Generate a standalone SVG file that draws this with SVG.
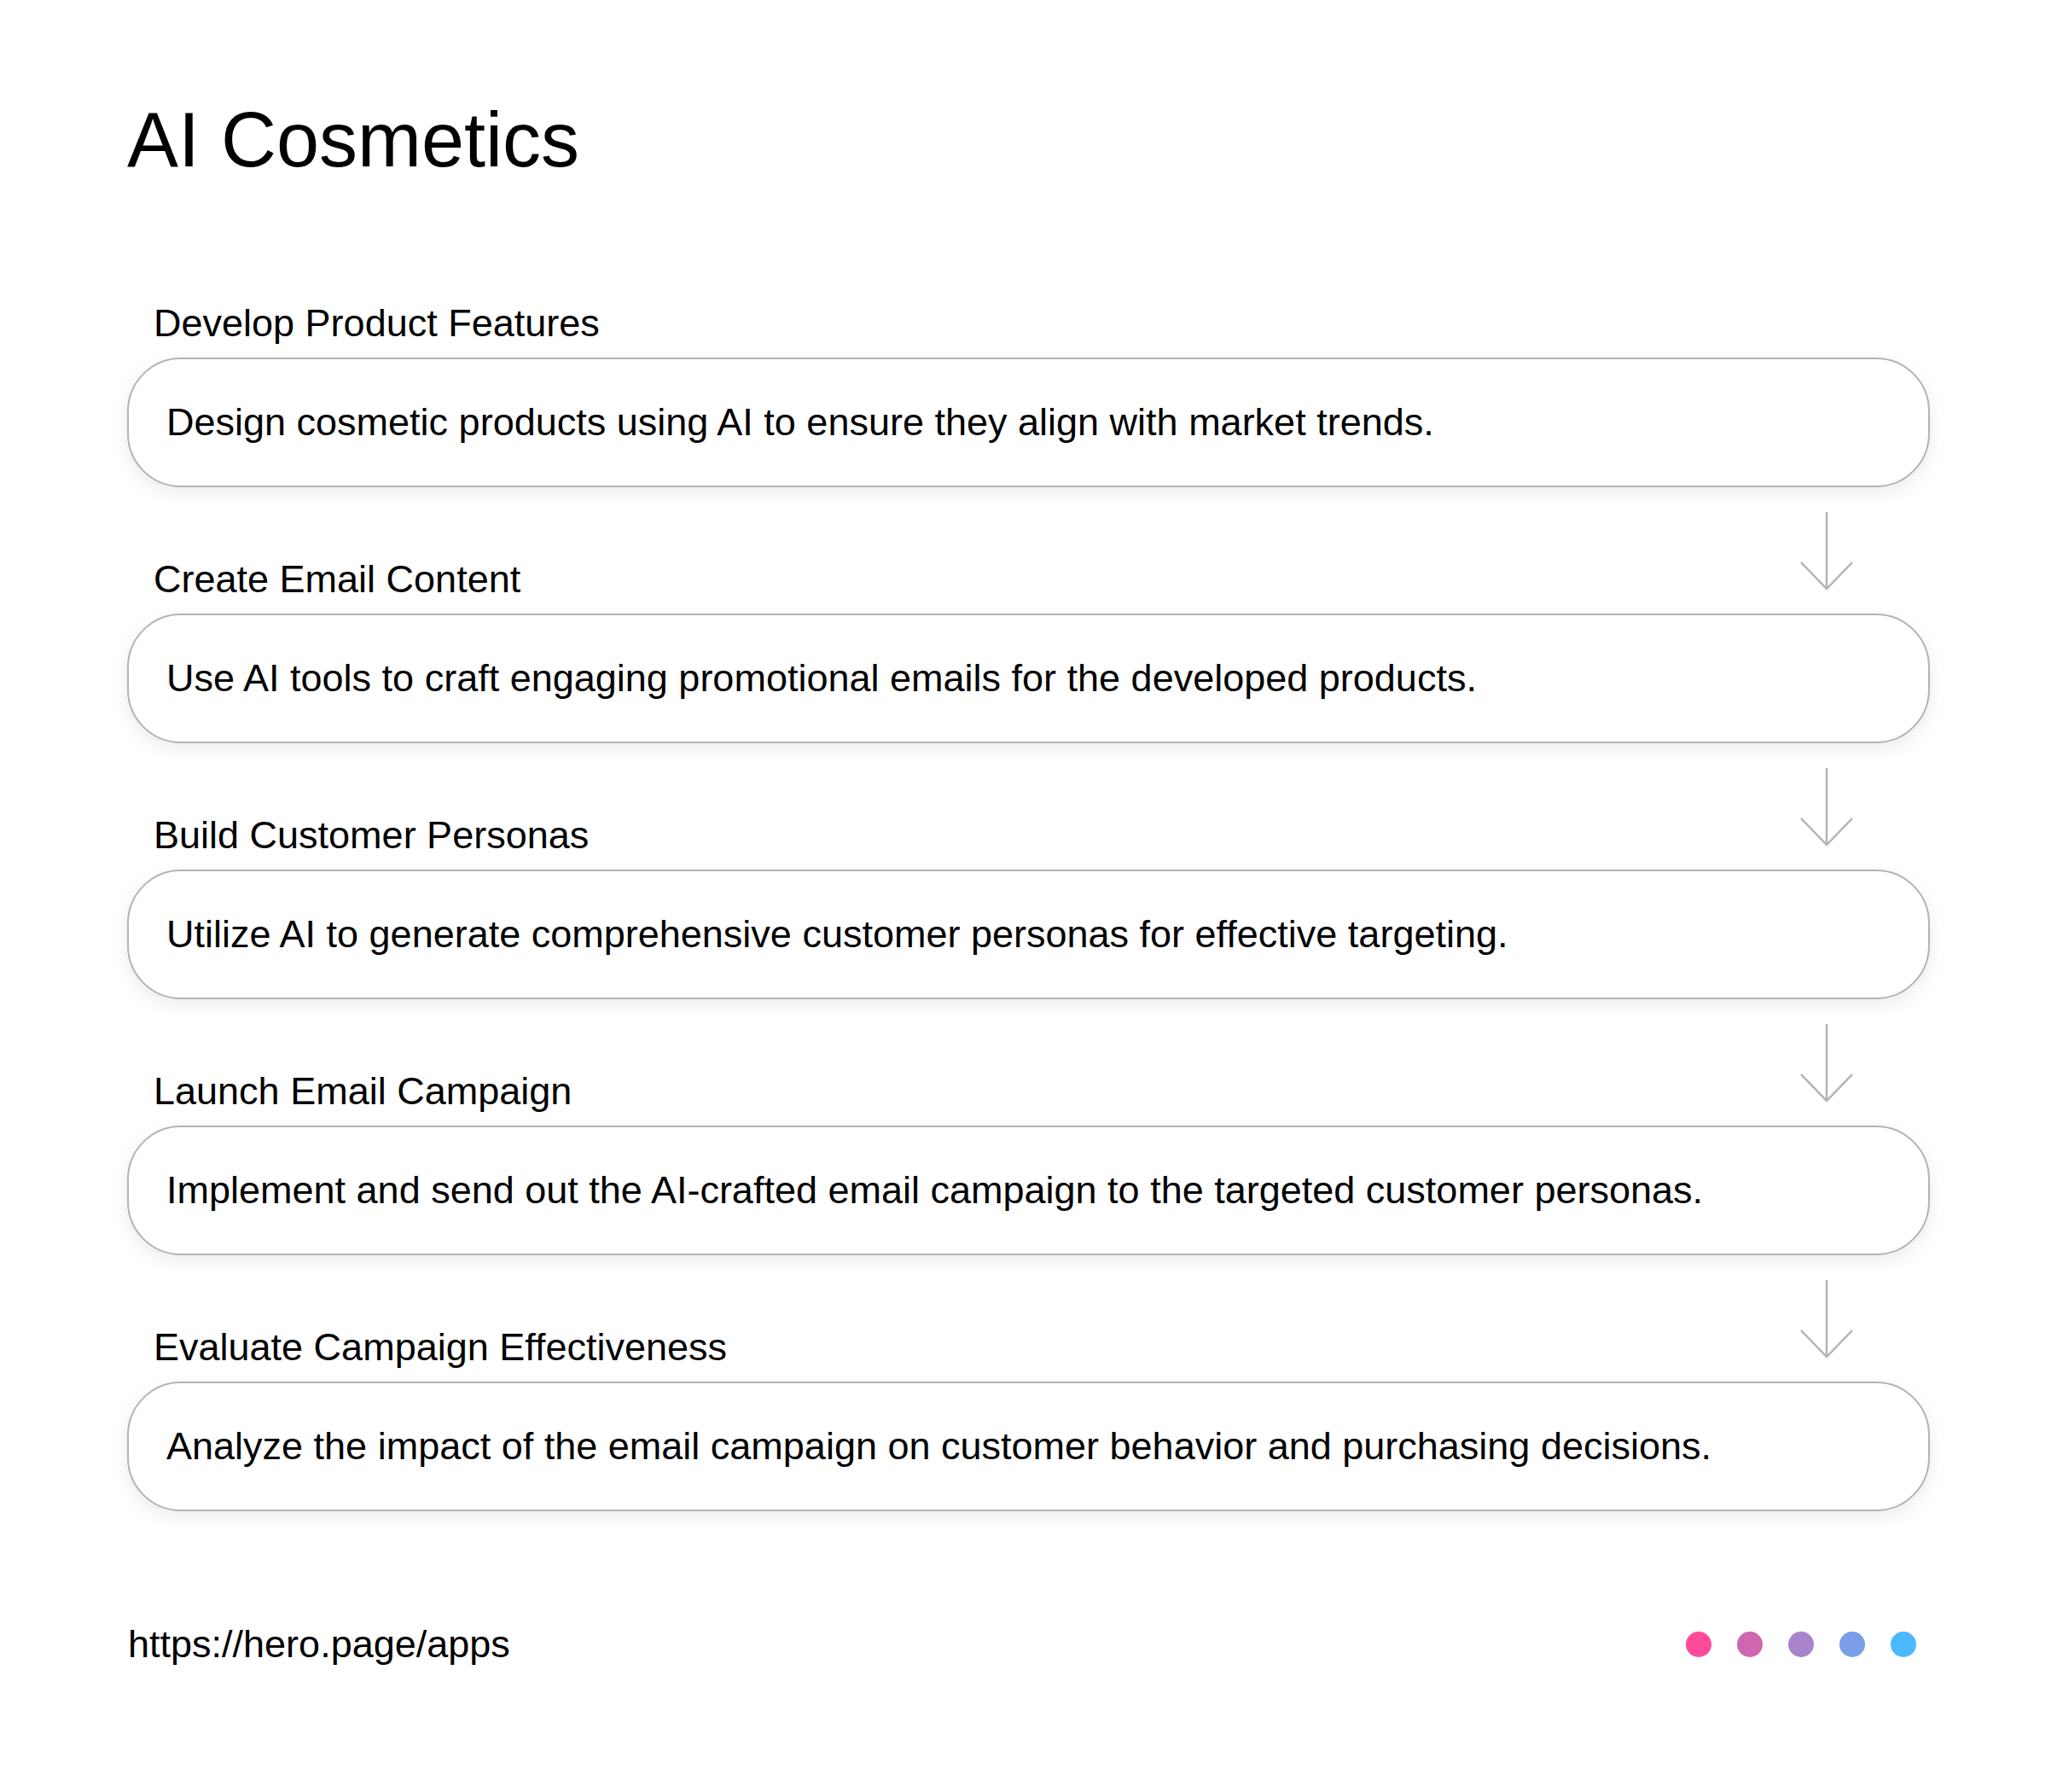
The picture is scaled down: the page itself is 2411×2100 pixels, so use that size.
<svg xmlns="http://www.w3.org/2000/svg" width="2411" height="2100" viewBox="0 0 2411 2100">
<style>
.title{font-family:"Liberation Sans",Arial,sans-serif;font-size:90px;fill:#000}
.lbl{font-family:"Liberation Sans",Arial,sans-serif;font-size:45px;fill:#000}
.box{fill:#fff;stroke:#b3b3b3;stroke-width:2;filter:url(#sh)}
.arr{fill:none;stroke:#b3b3b3;stroke-width:2.5}
</style>
<defs>
<filter id="sh" x="-5%" y="-30%" width="110%" height="170%">
<feDropShadow dx="0" dy="6" stdDeviation="9" flood-color="#000" flood-opacity="0.08"/>
</filter>
</defs>
<rect width="2411" height="2100" fill="#fff"/>
<text class="title" x="149" y="195">AI Cosmetics</text>
<g id="node1">
<text class="lbl" x="180" y="394">Develop Product Features</text>
<rect class="box" x="150" y="420" width="2111" height="150" rx="62"/>
<text class="lbl" x="195" y="510">Design cosmetic products using AI to ensure they align with market trends.</text>
</g>
<g id="node2">
<text class="lbl" x="180" y="694">Create Email Content</text>
<rect class="box" x="150" y="720" width="2111" height="150" rx="62"/>
<text class="lbl" x="195" y="810">Use AI tools to craft engaging promotional emails for the developed products.</text>
</g>
<g id="node3">
<text class="lbl" x="180" y="994">Build Customer Personas</text>
<rect class="box" x="150" y="1020" width="2111" height="150" rx="62"/>
<text class="lbl" x="195" y="1110">Utilize AI to generate comprehensive customer personas for effective targeting.</text>
</g>
<g id="node4">
<text class="lbl" x="180" y="1294">Launch Email Campaign</text>
<rect class="box" x="150" y="1320" width="2111" height="150" rx="62"/>
<text class="lbl" x="195" y="1410">Implement and send out the AI-crafted email campaign to the targeted customer personas.</text>
</g>
<g id="node5">
<text class="lbl" x="180" y="1594">Evaluate Campaign Effectiveness</text>
<rect class="box" x="150" y="1620" width="2111" height="150" rx="62"/>
<text class="lbl" x="195" y="1710">Analyze the impact of the email campaign on customer behavior and purchasing decisions.</text>
</g>
<g id="connectors">
<path class="arr" d="M2141 600V690M2111 659L2141 690L2171 659"/>
<path class="arr" d="M2141 900V990M2111 959L2141 990L2171 959"/>
<path class="arr" d="M2141 1200V1290M2111 1259L2141 1290L2171 1259"/>
<path class="arr" d="M2141 1500V1590M2111 1559L2141 1590L2171 1559"/>
</g>
<text class="lbl" x="150" y="1942">https://hero.page/apps</text>
<g id="dots">
<circle cx="1991" cy="1927" r="15" fill="#ff4b9a"/>
<circle cx="2051" cy="1927" r="15" fill="#d066b0"/>
<circle cx="2111" cy="1927" r="15" fill="#a884cc"/>
<circle cx="2171" cy="1927" r="15" fill="#7a9ee8"/>
<circle cx="2231" cy="1927" r="15" fill="#4cb8ff"/>
</g>
</svg>
